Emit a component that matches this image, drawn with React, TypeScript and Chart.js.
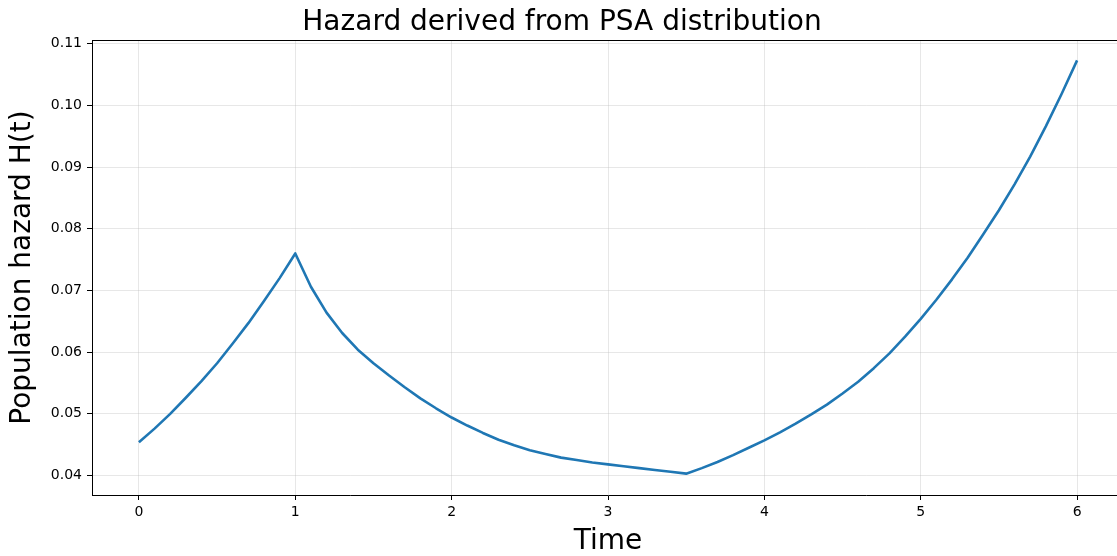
import React, { useEffect, useRef } from "react";
import { Chart, registerables } from "chart.js";

Chart.register(...registerables);

const TITLE = "Hazard derived from PSA distribution";
const X_LABEL = "Time";
const Y_LABEL = "Population hazard H(t)";

const TIME = [
  0, 0.1, 0.2, 0.3, 0.4, 0.5, 0.6, 0.7, 0.8, 0.9,
  1, 1.1, 1.2, 1.3, 1.4, 1.5, 1.6, 1.7, 1.8, 1.9,
  2, 2.1, 2.2, 2.3, 2.4, 2.5, 2.6, 2.7, 2.8, 2.9,
  3, 3.1, 3.2, 3.3, 3.4, 3.5, 3.6, 3.7, 3.8, 3.9,
  4, 4.1, 4.2, 4.3, 4.4, 4.5, 4.6, 4.7, 4.8, 4.9,
  5, 5.1, 5.2, 5.3, 5.4, 5.5, 5.6, 5.7, 5.8, 5.9,
  6,
];
const HAZARD = [
  0.0454, 0.0476, 0.05, 0.0526, 0.0553, 0.0582, 0.0614, 0.0647, 0.0683, 0.072,
  0.076, 0.0706, 0.0664, 0.0631, 0.0604, 0.0582, 0.0562, 0.0543, 0.0525, 0.0509,
  0.0494, 0.0481, 0.0469, 0.0458, 0.0449, 0.0441, 0.0435, 0.0429, 0.0425, 0.0421,
  0.0418, 0.0415, 0.0412, 0.0409, 0.0406, 0.0403, 0.0412, 0.0422, 0.0433, 0.0445,
  0.0457, 0.047, 0.0484, 0.0499, 0.0515, 0.0533, 0.0552, 0.0574, 0.0598, 0.0625,
  0.0654, 0.0685, 0.0718, 0.0753, 0.0791, 0.083, 0.0872, 0.0917, 0.0966, 0.1018,
  0.1073,
];

const X_TICKS = [0, 1, 2, 3, 4, 5, 6];
const Y_TICKS = [0.04, 0.05, 0.06, 0.07, 0.08, 0.09, 0.1, 0.11];

const FONT = "'DejaVu Sans', 'Liberation Sans', sans-serif";

const spinesPlugin = {
  id: "spines",
  afterDraw(chart: any) {
    const { ctx, chartArea } = chart;
    ctx.save();
    ctx.strokeStyle = "#000";
    ctx.lineWidth = 1;
    ctx.beginPath();
    const top = Math.round(chartArea.top) + 0.5;
    const right = Math.round(chartArea.right) - 0.5;
    ctx.moveTo(chartArea.left, top);
    ctx.lineTo(chartArea.right, top);
    ctx.moveTo(right, chartArea.top);
    ctx.lineTo(right, chartArea.bottom);
    ctx.stroke();
    ctx.restore();
  },
};

export default function App() {
  const canvasRef = useRef<HTMLCanvasElement | null>(null);

  useEffect(() => {
    const canvas = canvasRef.current;
    if (!canvas) return;
    const points = TIME.map((t, i) => ({ x: t, y: HAZARD[i] }));
    const gridColor = "rgba(176,176,176,0.3)";
    const chart = new Chart(canvas, {
      type: "line",
      data: {
        datasets: [
          {
            data: points,
            borderColor: "#1f77b4",
            backgroundColor: "#1f77b4",
            borderWidth: 2.6,
            pointRadius: 0,
            tension: 0,
            fill: false,
            borderJoinStyle: "round",
          },
        ],
      },
      options: {
        responsive: false,
        animation: false,
        devicePixelRatio: 1,
        layout: { padding: 0 },
        plugins: {
          legend: { display: false },
          tooltip: { enabled: false },
          title: {
            display: true,
            text: TITLE,
            color: "#000",
            font: { family: FONT, size: 28, weight: "normal", lineHeight: 1.2 },
            padding: { top: 6.2, bottom: 0.2 },
          },
        },
        scales: {
          x: {
            type: "linear",
            min: -0.3,
            max: 6.3,
            afterBuildTicks: (scale: any) => {
              scale.ticks = X_TICKS.map((v) => ({ value: v }));
            },
            afterFit: (scale: any) => {
              scale.height = 61;
            },
            ticks: {
              color: "#000",
              font: { family: FONT, size: 14 },
              padding: 4,
              maxRotation: 0,
              autoSkip: false,
              callback: (v: any) => String(v),
            },
            grid: {
              color: gridColor,
              lineWidth: 1,
              tickColor: "#000",
              tickLength: 5,
              tickWidth: 1,
            },
            border: { display: true, color: "#000", width: 1 },
            title: {
              display: true,
              text: X_LABEL,
              color: "#000",
              font: { family: FONT, size: 28, lineHeight: 1.2 },
              padding: { top: 0, bottom: -2.5 },
            },
          },
          y: {
            type: "linear",
            min: 0.03684,
            max: 0.1106,
            afterBuildTicks: (scale: any) => {
              scale.ticks = Y_TICKS.map((v) => ({ value: v }));
            },
            afterFit: (scale: any) => {
              scale.width = 92;
            },
            ticks: {
              color: "#000",
              font: { family: FONT, size: 14 },
              padding: 5,
              autoSkip: false,
              callback: (v: any) => Number(v).toFixed(2),
            },
            grid: {
              color: gridColor,
              lineWidth: 1,
              tickColor: "#000",
              tickLength: 5,
              tickWidth: 1,
            },
            border: { display: true, color: "#000", width: 1 },
            title: {
              display: true,
              text: Y_LABEL,
              color: "#000",
              font: { family: FONT, size: 28, lineHeight: 1.2 },
              padding: { top: 6, bottom: 0 },
            },
          },
        },
      },
      plugins: [spinesPlugin],
    } as any);
    return () => chart.destroy();
  }, []);

  return (
    <div
      style={{
        position: "fixed",
        left: 0,
        top: 0,
        width: 1117,
        height: 556,
        overflow: "hidden",
        background: "#fff",
      }}
    >
      <canvas ref={canvasRef} width={1124} height={556} style={{ display: "block" }} />
    </div>
  );
}
